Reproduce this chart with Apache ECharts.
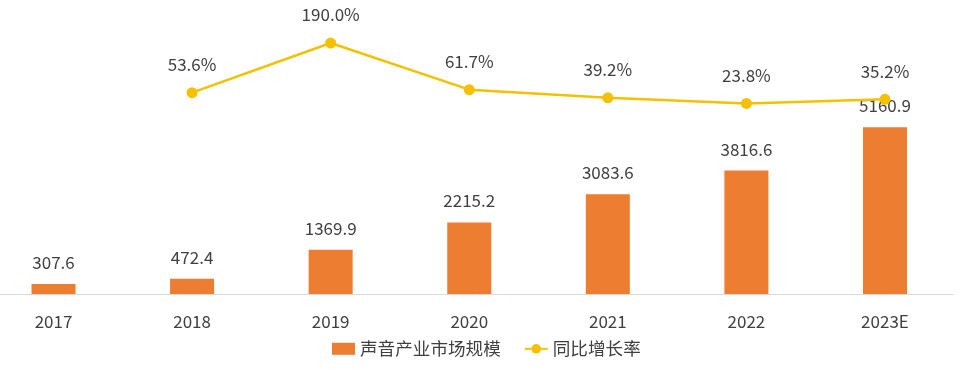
<!DOCTYPE html>
<html>
<head>
<meta charset="utf-8">
<script src="https://cdn.jsdelivr.net/npm/echarts@6/dist/echarts.min.js"></script>
<style>
html,body{margin:0;padding:0;background:#fff;}
#chart{width:960px;height:370px;}
</style>
</head>
<body>
<div id="chart"></div>
<script>
const categories = ['2017', '2018', '2019', '2020', '2021', '2022', '2023E'];
const marketSize = [307.6, 472.4, 1369.9, 2215.2, 3083.6, 3816.6, 5160.9];
const growthRate = [null, 53.6, 190.0, 61.7, 39.2, 23.8, 35.2];
const seriesNames = ['声音产业市场规模', '同比增长率'];

const FONT = '"Noto Sans CJK SC", "Noto Sans", sans-serif';
const TXT = '#404040';

const chart = echarts.init(document.getElementById('chart'), null, {renderer: 'canvas'});
chart.setOption({
  animation: false,
  backgroundColor: '#ffffff',
  textStyle: {fontFamily: FONT},
  grid: [
    {left: 53.5, right: 75, top: 3, bottom: 76, containLabel: false},
    {left: 0, right: 7, top: 3, bottom: 76, containLabel: false}
  ],
  legend: {
    left: 327, top: 335,
    itemWidth: 23, itemHeight: 12, itemGap: 23,
    textStyle: {fontFamily: FONT, fontSize: 17.6, color: TXT},
    data: [
      {name: seriesNames[0], icon: 'rect'},
      {name: seriesNames[1]}
    ]
  },
  xAxis: [
    {
      type: 'category',
      gridIndex: 0,
      data: categories,
      boundaryGap: false,
      axisLine: {show: false},
      axisTick: {show: false},
      axisLabel: {fontFamily: FONT, fontSize: 17, color: TXT, margin: 19}
    },
    {
      type: 'category',
      gridIndex: 1,
      data: categories,
      axisLine: {show: true, lineStyle: {color: '#d9d9d9', width: 1}},
      axisTick: {show: false},
      axisLabel: {show: false}
    }
  ],
  yAxis: [
    {type: 'value', gridIndex: 0, min: 0, max: 9000, show: false, splitLine: {show: false}},
    {type: 'value', gridIndex: 0, min: -500, max: 300, show: false, splitLine: {show: false}},
    {type: 'value', gridIndex: 1, min: 0, max: 1, show: false, splitLine: {show: false}}
  ],
  series: [
    {
      name: seriesNames[0],
      type: 'bar',
      xAxisIndex: 0,
      yAxisIndex: 0,
      data: marketSize,
      barWidth: 44,
      itemStyle: {color: '#ED7D31'},
      label: {
        show: true, position: 'top', distance: 13,
        fontFamily: FONT, fontSize: 17, color: TXT,
        formatter: p => p.value.toFixed(1)
      }
    },
    {
      name: seriesNames[1],
      type: 'line',
      xAxisIndex: 0,
      yAxisIndex: 1,
      data: growthRate,
      symbol: 'circle',
      symbolSize: 11,
      lineStyle: {color: '#F5C000', width: 2.5},
      itemStyle: {color: '#F5C000'},
      label: {
        show: true, position: 'top', distance: 14,
        fontFamily: FONT, fontSize: 17, color: TXT,
        formatter: p => p.value == null ? '' : p.value.toFixed(1) + '%'
      },
      z: 3
    }
  ]
});
</script>
</body>
</html>
